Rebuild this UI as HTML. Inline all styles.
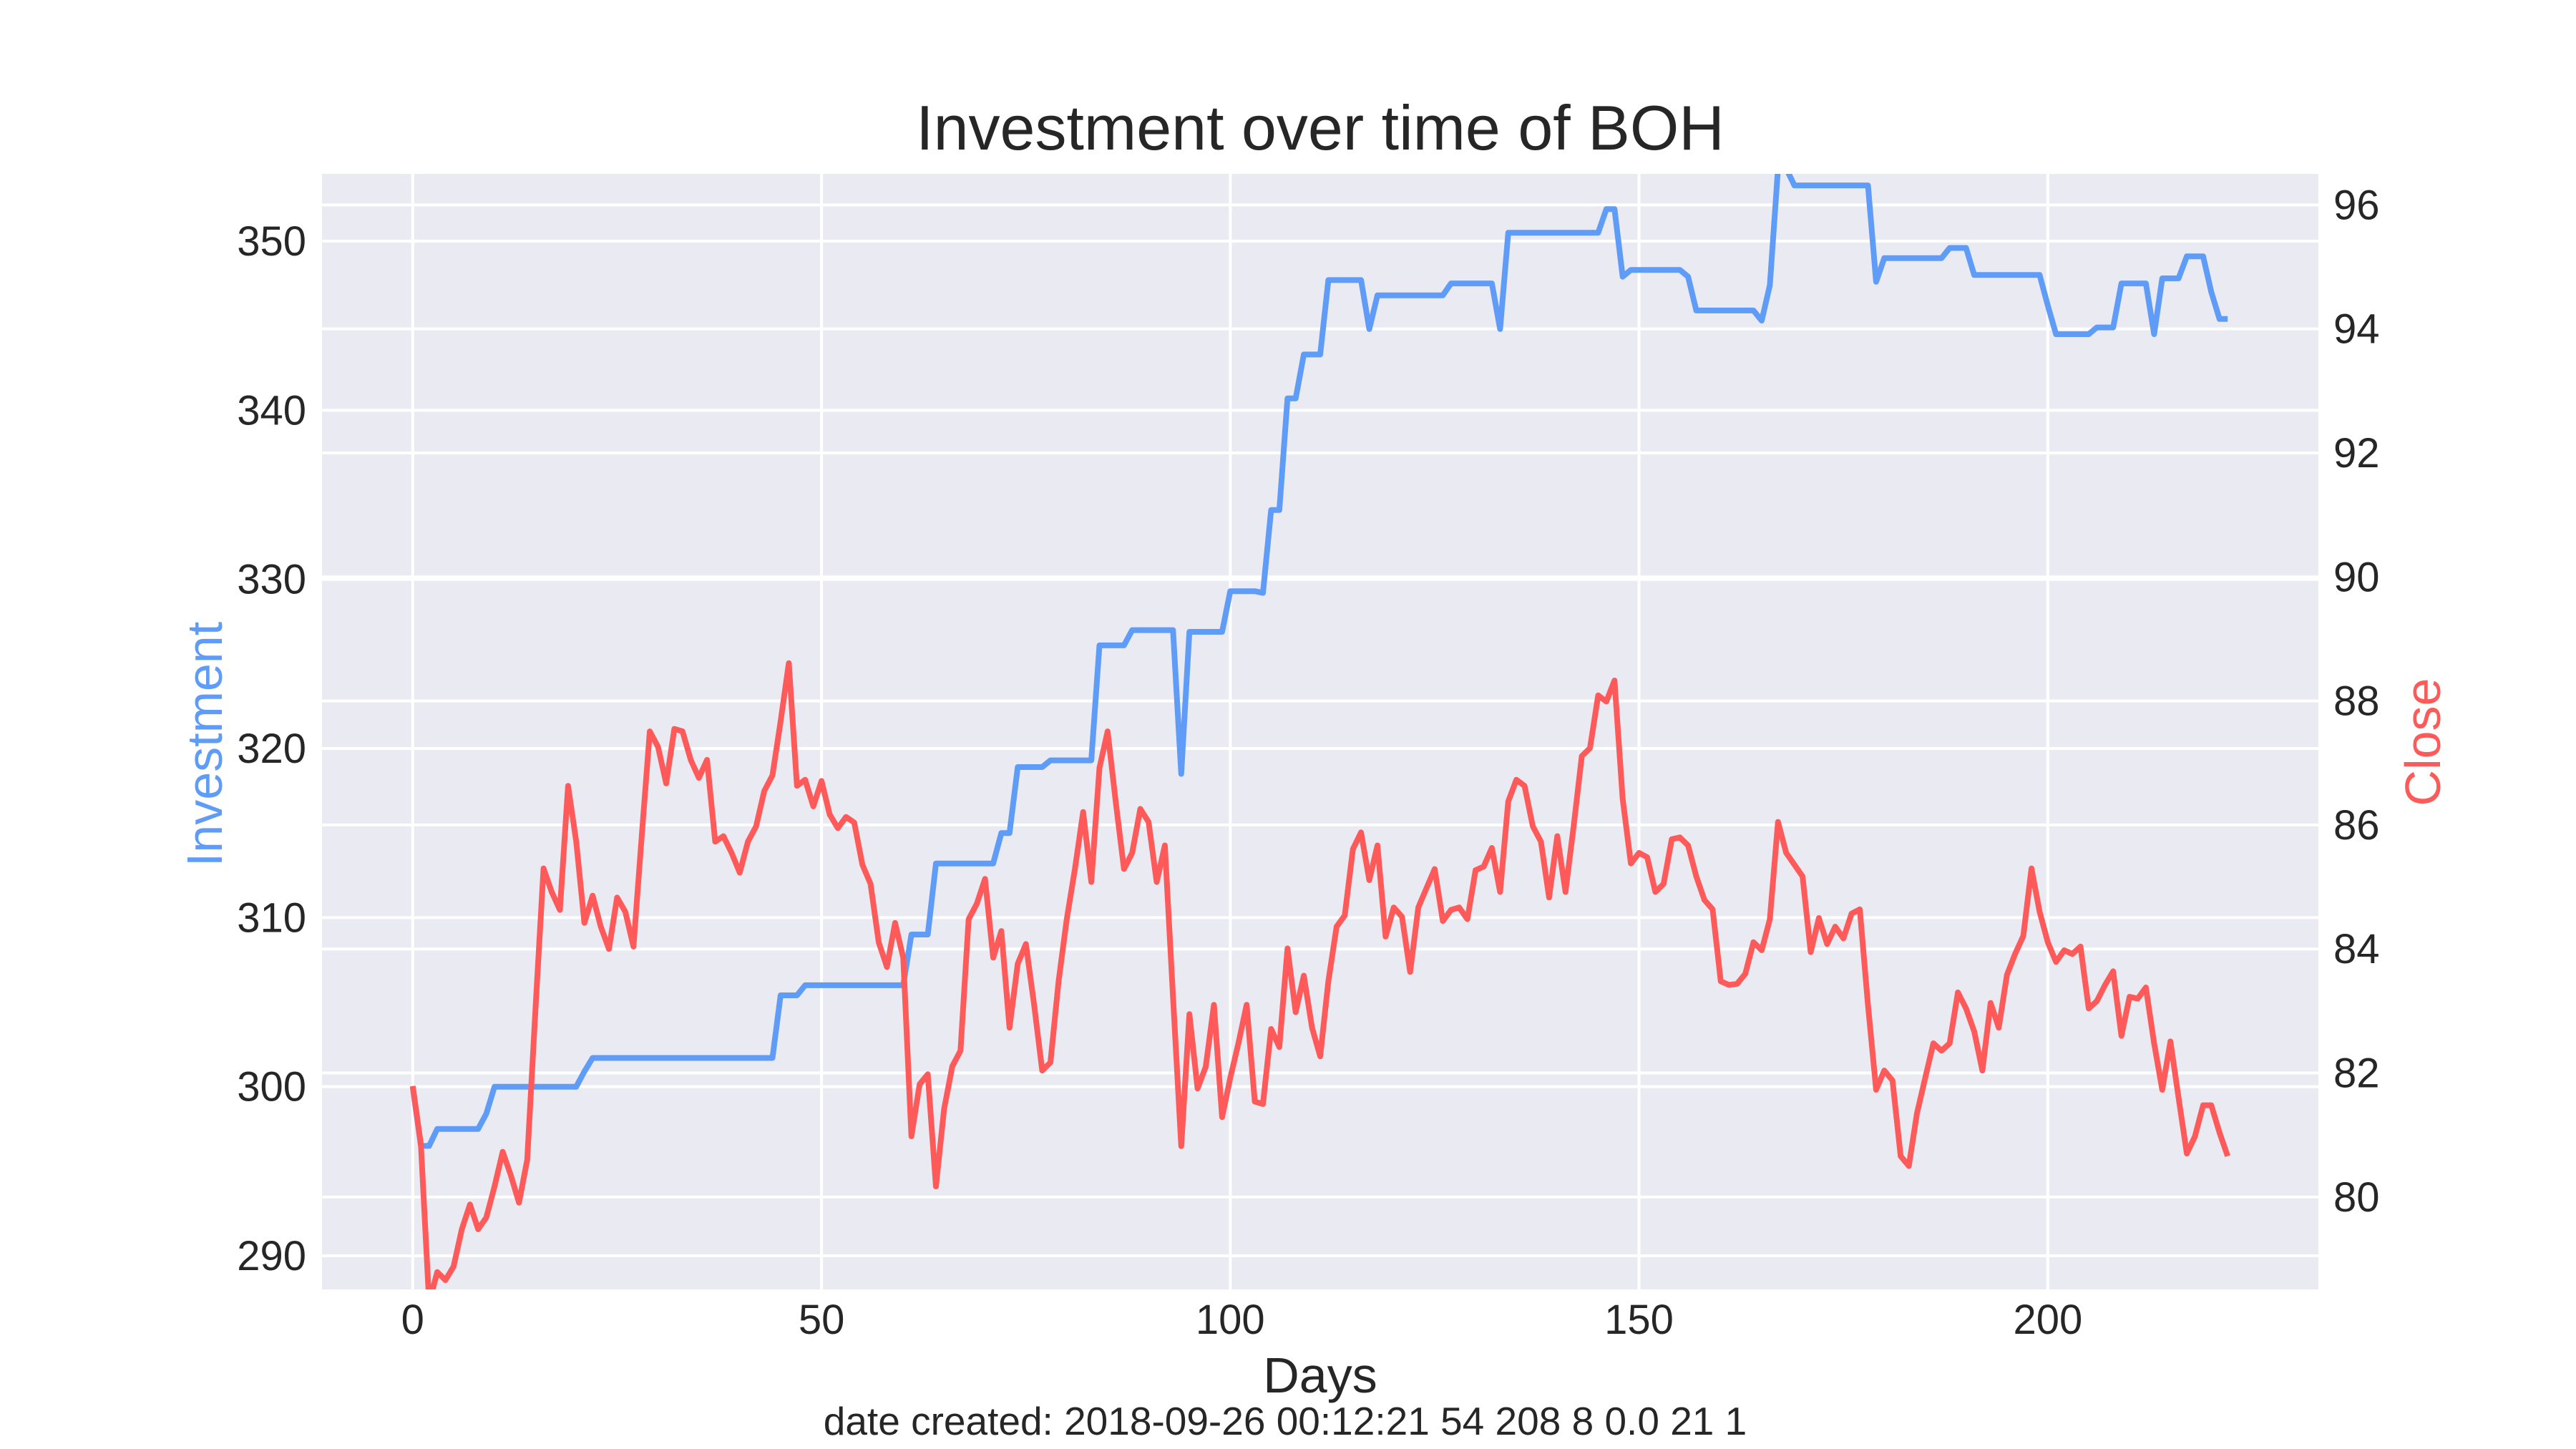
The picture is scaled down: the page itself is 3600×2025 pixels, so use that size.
<!DOCTYPE html>
<html>
<head>
<meta charset="utf-8">
<style>
html,body{margin:0;padding:0;background:#fff;}
svg{display:block;font-family:"Liberation Sans",Arial,sans-serif;}
</style>
</head>
<body>
<svg id="chart" width="3600" height="2025" viewBox="0 0 3600 2025" xmlns="http://www.w3.org/2000/svg">
  <rect x="450" y="243" width="2790" height="1559" fill="#eaeaf2"/>
  <g id="grid"></g>
  <g id="series"></g>
  <g id="ticks"></g>
  <text x="1845" y="209" font-size="88" text-anchor="middle" fill="#262626">Investment over time of BOH</text>
  <text x="1845" y="1946" font-size="70" text-anchor="middle" fill="#262626">Days</text>
  <text x="1796" y="2005" font-size="55" text-anchor="middle" fill="#262626">date created: 2018-09-26 00:12:21 54 208 8 0.0 21 1</text>
  <text x="0" y="0" font-size="70" text-anchor="middle" fill="#5f9cf8" transform="translate(310,1040) rotate(-90)">Investment</text>
  <text x="0" y="0" font-size="70" text-anchor="middle" fill="#ff5a5a" transform="translate(3410,1037) rotate(-90)">Close</text>
</svg>
<script>
const days = Array.from({length:223},(_,i)=>i);
const investment = [
300,296.5,296.5,297.5,297.5,297.5,297.5,297.5,297.5,298.4,
300,300,300,300,300,300,300,300,300,300,
300,300.9,301.7,301.7,301.7,301.7,301.7,301.7,301.7,301.7,
301.7,301.7,301.7,301.7,301.7,301.7,301.7,301.7,301.7,301.7,
301.7,301.7,301.7,301.7,301.7,305.4,305.4,305.4,306,306,
306,306,306,306,306,306,306,306,306,306,
306,309,309,309,313.2,313.2,313.2,313.2,313.2,313.2,
313.2,313.2,315,315,318.9,318.9,318.9,318.9,319.3,319.3,
319.3,319.3,319.3,319.3,326.1,326.1,326.1,326.1,327,327,
327,327,327,327,318.5,326.9,326.9,326.9,326.9,326.9,
329.3,329.3,329.3,329.3,329.2,334.1,334.1,340.7,340.7,343.3,
343.3,343.3,347.7,347.7,347.7,347.7,347.7,344.8,346.8,346.8,
346.8,346.8,346.8,346.8,346.8,346.8,346.8,347.5,347.5,347.5,
347.5,347.5,347.5,344.8,350.5,350.5,350.5,350.5,350.5,350.5,
350.5,350.5,350.5,350.5,350.5,350.5,351.9,351.9,347.9,348.3,
348.3,348.3,348.3,348.3,348.3,348.3,347.9,345.9,345.9,345.9,
345.9,345.9,345.9,345.9,345.9,345.3,347.4,354.3,354.3,353.3,
353.3,353.3,353.3,353.3,353.3,353.3,353.3,353.3,353.3,347.6,
349,349,349,349,349,349,349,349,349.6,349.6,
349.6,348,348,348,348,348,348,348,348,348,
346.2,344.5,344.5,344.5,344.5,344.5,344.9,344.9,344.9,347.5,
347.5,347.5,347.5,344.5,347.8,347.8,347.8,349.1,349.1,349.1,
347,345.4,345.4
];
const closePrice = [
81.79,80.85,78.3,78.79,78.66,78.88,79.48,79.88,79.48,79.67,
80.17,80.73,80.35,79.91,80.6,83.0,85.3,84.92,84.63,86.63,
85.73,84.42,84.86,84.36,84.0,84.83,84.6,84.04,85.8,87.51,
87.26,86.67,87.55,87.51,87.05,86.76,87.05,85.73,85.82,85.55,
85.23,85.73,85.98,86.55,86.8,87.67,88.61,86.63,86.73,86.3,
86.71,86.17,85.95,86.13,86.04,85.36,85.05,84.11,83.71,84.42,
83.86,80.98,81.82,81.98,80.17,81.42,82.11,82.36,84.48,84.73,
85.13,83.86,84.29,82.73,83.76,84.08,83.11,82.04,82.17,83.48,
84.48,85.29,86.21,85.08,86.92,87.51,86.36,85.29,85.55,86.26,
86.05,85.08,85.67,83.23,80.82,82.95,81.75,82.1,83.1,81.29,
81.92,82.48,83.1,81.54,81.5,82.71,82.42,84.01,82.98,83.57,
82.73,82.27,83.48,84.36,84.54,85.61,85.88,85.11,85.67,84.2,
84.67,84.52,83.63,84.67,84.98,85.29,84.45,84.63,84.67,84.48,
85.27,85.33,85.63,84.92,86.38,86.73,86.63,85.98,85.73,84.83,
85.82,84.92,85.98,87.11,87.24,88.09,87.99,88.33,86.42,85.38,
85.55,85.48,84.92,85.05,85.77,85.8,85.67,85.17,84.79,84.64,
83.48,83.42,83.44,83.6,84.11,83.98,84.48,86.05,85.55,85.36,
85.17,83.95,84.5,84.08,84.36,84.17,84.57,84.64,83.1,81.73,
82.04,81.88,80.66,80.5,81.35,81.92,82.48,82.36,82.48,83.3,
83.04,82.67,82.04,83.13,82.73,83.58,83.92,84.21,85.3,84.6,
84.11,83.79,83.98,83.92,84.04,83.04,83.16,83.42,83.64,82.6,
83.23,83.2,83.38,82.48,81.73,82.51,81.6,80.7,80.98,81.48,
81.48,81.04,80.66
];
const xTicks = [0,50,100,150,200];
const xTickLabels = ["0","50","100","150","200"];
const yLeftTicks = [290,300,310,320,330,340,350];
const yLeftTickLabels = ["290","300","310","320","330","340","350"];
const yRightTicks = [80,82,84,86,88,90,92,94,96];
const yRightTickLabels = ["80","82","84","86","88","90","92","94","96"];

const PL=450, PR=3240, PT=243, PB=1802;
const X_MIN=-11.1, X_MAX=233.1;
const YL_MIN=288.01, YL_MAX=353.98;
const YR_MIN=78.51, YR_MAX=96.5;
function xScale(v){return PL+(v-X_MIN)/(X_MAX-X_MIN)*(PR-PL);}
function yLeft(v){return PB-(v-YL_MIN)/(YL_MAX-YL_MIN)*(PB-PT);}
function yRight(v){return PB-(v-YR_MIN)/(YR_MAX-YR_MIN)*(PB-PT);}
const NS="http://www.w3.org/2000/svg";
function mk(tag,attrs,parent){const e=document.createElementNS(NS,tag);for(const k in attrs)e.setAttribute(k,attrs[k]);parent.appendChild(e);return e;}
const grid=document.getElementById('grid'), series=document.getElementById('series'), ticks=document.getElementById('ticks');

yLeftTicks.forEach((t,i)=>{
  const y=yLeft(t);
  const g=mk('line',{x1:PL,x2:PR,y1:y,y2:y,stroke:'#fff','stroke-width':4},grid);
  
  
  const tx=mk('text',{x:428,y:y+20,'font-size':58,'text-anchor':'end',fill:'#262626'},ticks);
  tx.textContent=yLeftTickLabels[i];
  
  
});
yRightTicks.forEach((t,i)=>{
  const y=yRight(t);
  const g=mk('line',{x1:PL,x2:PR,y1:y,y2:y,stroke:'#fff','stroke-width':4},grid);
  
  
  const tx=mk('text',{x:3261,y:y+20,'font-size':58,'text-anchor':'start',fill:'#262626'},ticks);
  tx.textContent=yRightTickLabels[i];
  
  
});
xTicks.forEach((t,i)=>{
  const x=xScale(t);
  const g=mk('line',{x1:x,x2:x,y1:PT,y2:PB,stroke:'#fff','stroke-width':4},grid);
  
  
  const tx=mk('text',{x:x,y:1864,'font-size':58,'text-anchor':'middle',fill:'#262626'},ticks);
  tx.textContent=xTickLabels[i];
  
  
});

const clip=mk('clipPath',{id:'plotclip'},mk('defs',{},document.getElementById('chart')));
mk('rect',{x:PL,y:PT,width:PR-PL,height:PB-PT},clip);

const invPts=days.map((d,i)=>xScale(d).toFixed(1)+','+yLeft(investment[i]).toFixed(1)).join(' ');
const inv=mk('polyline',{points:invPts,fill:'none',stroke:'#5f9cf8','stroke-width':8,'stroke-linejoin':'round','clip-path':'url(#plotclip)'},series);



const closePts=days.map((d,i)=>xScale(d).toFixed(1)+','+yRight(closePrice[i]).toFixed(1)).join(' ');
const cl=mk('polyline',{points:closePts,fill:'none',stroke:'#ff5a5a','stroke-width':8,'stroke-linejoin':'round','clip-path':'url(#plotclip)'},series);


</script>
</body>
</html>
